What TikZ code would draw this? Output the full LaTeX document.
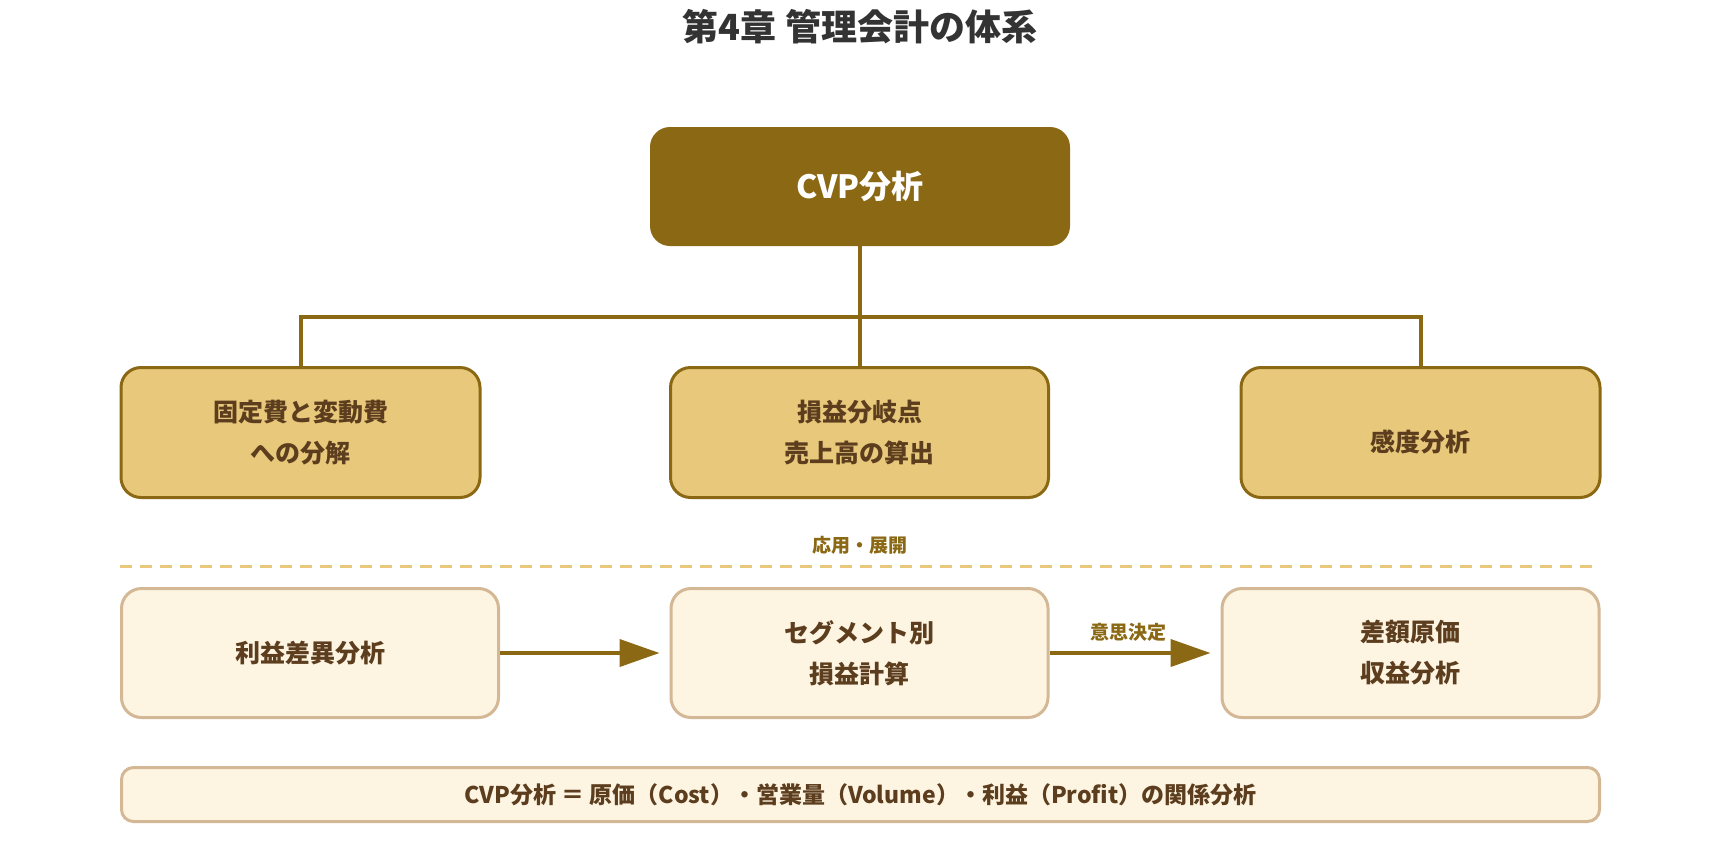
\documentclass[tikz,border=0pt]{standalone}
\usepackage{fontspec}
\setmainfont{Noto Sans CJK JP}
\usetikzlibrary{arrows.meta}

\definecolor{cvpbrown}{HTML}{8B6914}
\definecolor{cvpgold}{HTML}{E8C87A}
\definecolor{cvpcream}{HTML}{FDF5E2}
\definecolor{cvptan}{HTML}{D4B896}
\definecolor{cvptext}{HTML}{5C3D1E}
\definecolor{cvptitle}{HTML}{333333}

\begin{document}
\begin{tikzpicture}[x=1pt, y=-1pt, >={Triangle[length=40pt,width=27pt]},
  heading/.style={text=cvptitle, font=\fontsize{36}{40}\selectfont\bfseries},
  cvpbox/.style={fill=cvpbrown, rounded corners=20pt, minimum width=420pt,
    minimum height=119pt, text=white, font=\fontsize{32}{36}\selectfont\bfseries},
  branch/.style={fill=cvpgold, draw=cvpbrown, line width=3pt, rounded corners=20pt,
    minimum height=130pt, text=cvptext, align=center,
    font=\fontsize{25}{41}\selectfont\bfseries},
  applied/.style={fill=cvpcream, draw=cvptan, line width=3pt, rounded corners=20pt,
    minimum width=377pt, minimum height=129pt, text=cvptext, align=center,
    font=\fontsize{25}{41}\selectfont\bfseries},
  summary/.style={fill=cvpcream, draw=cvptan, line width=3pt, rounded corners=12pt,
    minimum width=1478pt, minimum height=54pt, text=cvptext,
    font=\fontsize{23}{26}\selectfont\bfseries},
  sidelabel/.style={text=cvpbrown, font=\fontsize{19}{22}\selectfont\bfseries},
  trunk/.style={draw=cvpbrown, line width=4pt},
  flow/.style={->, draw=cvpbrown, line width=4pt, shorten >=10pt},
  divider/.style={draw=cvpgold, line width=3pt, dash pattern=on 12pt off 8pt}]

  % page
  \fill[white] (0,0) rectangle (1720,844);
  \useasboundingbox (0,0) rectangle (1720,844);

  \node[heading] (title) at (860,27) {第4章 管理会計の体系};

  % CVP and its three parts
  \node[cvpbox] (cvp) at (860,186.5) {CVP分析};
  \node[branch, minimum width=359pt] (fixvar) at (300.5,432.5) {固定費と変動費\\への分解};
  \node[branch, minimum width=378pt] (bep) at (859.5,432.5) {損益分岐点\\売上高の算出};
  \node[branch, minimum width=359pt, text height=40pt, text depth=3pt] (sens) at (1420.5,432.5) {感度分析};

  \coordinate (bus) at (860,317);
  \draw[trunk] (cvp.south) -- (cvp.south |- bep.north);
  \draw[trunk] (fixvar.north) |- (bus) -| (sens.north);

  % applications
  \coordinate (dashL) at (120,566);
  \coordinate (dashR) at (1593,566);
  \draw[divider] (dashL) -- (dashR);
  \node[sidelabel] (apply) at (860,545) {応用・展開};

  \node[applied] (variance) at (310,653) {利益差異分析};
  \node[applied] (segment) at (859.5,653) {セグメント別\\損益計算};
  \node[applied] (diff) at (1410.5,653) {差額原価\\収益分析};

  \draw[flow] (variance) -- (segment);
  \draw[flow] (segment) -- node[sidelabel, above=6pt, pos=0.46] (decide) {意思決定} (diff);

  \node[summary] (note) at (860.5,794.5) {CVP分析 ＝ 原価（Cost）・営業量（Volume）・利益（Profit）の関係分析};
\end{tikzpicture}
\end{document}
